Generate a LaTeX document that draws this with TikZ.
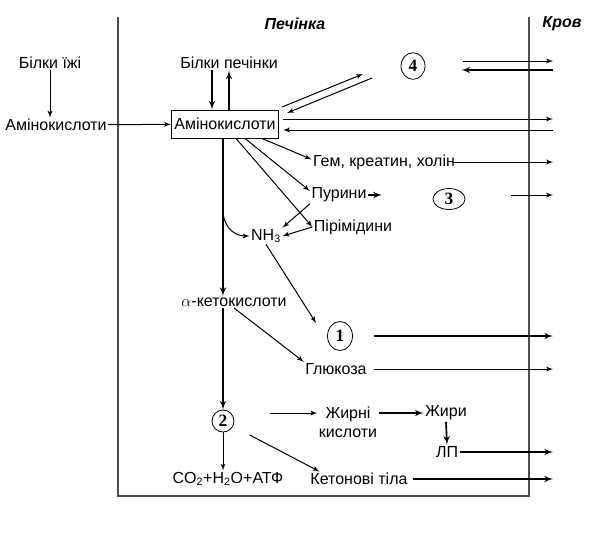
\documentclass[tikz,border=0pt]{standalone}
\usepackage{fontspec}
\setmainfont{Liberation Sans}
\newfontfamily\numfont{Liberation Serif}
\usetikzlibrary{shapes,arrows}
\usetikzlibrary{positioning}
\tikzstyle{term} = [inner sep=1pt, font=\fontsize{12}{14.5}\selectfont]
\tikzstyle{block} = [rectangle, draw, line width=0.75pt, inner xsep=2.2pt, minimum height=21pt, font=\fontsize{12}{14.5}\selectfont]
\tikzstyle{stage} = [ellipse, draw, line width=0.6pt, inner sep=0pt, font=\numfont\bfseries\fontsize{13}{15}\selectfont]
\tikzstyle{title} = [inner sep=1pt, font=\bfseries\itshape\fontsize{12}{14}\selectfont]
\tikzstyle{line} = [draw, line width=0.75pt, -latex']
\tikzstyle{heavy} = [draw, line width=1.25pt, -latex']
\tikzstyle{border} = [draw, black!70, line width=0.9pt]

\begin{document}
\begin{tikzpicture}[x=0.75pt, y=-0.75pt]
	\useasboundingbox (0,0) rectangle (607,533);
	
	% Frame
	\path [border] (118,17) -- (118,496) -- (529,496) -- (529,17);
	\node [title] (liver) at (295,24) {Печінка};
	\node [title] (bloodtitle) at (562,24) {Кров};
	\coordinate (blood) at (553,0);
	\coordinate (down) at (212,0);
	
	% Place nodes
	\node [term] (food) at (50,63) {Білки їжі};
	\node [term] (aminoL) at (56,125) {Амінокислоти};
	\node [block] (amino) at (225,124) {Амінокислоти};
	\node [term] (liverP) at (229,63) {Білки печінки};
	\node [stage, minimum width=18pt, minimum height=20pt] (four) at (413,66) {4};
	\node [term] (gem) at (384,162) {Гем, креатин, холін};
	\node [term] (purine) at (339,195) {Пурини};
	\node [stage, minimum width=24pt, minimum height=15.75pt] (three) at (449,199) {3};
	\node [term] (pyrim) at (353,227) {Пірімідини};
	\node [term] (nh3) at (266,236) {NH\textsubscript{3}};
	\node [term] (alpha) at (234,302) {$\alpha$-кетокислоти};
	\node [stage, minimum width=18.75pt, minimum height=21.75pt] (one) at (340,336) {1};
	\node [term] (glucose) at (336,369) {Глюкоза};
	\node [stage, minimum width=16.5pt, minimum height=16.5pt] (two) at (223,421) {2};
	\node [term, align=center] (fattyA) at (348,422) {Жирні\\кислоти};
	\node [term] (fats) at (446,413) {Жири};
	\node [term] (lp) at (447,452) {ЛП};
	\node [term] (co2) at (228,479) {CO\textsubscript{2}+H\textsubscript{2}O+АТФ};
	\node [term] (ketone) at (359,479) {Кетонові тіла};
	\coordinate (out4) at (282,107);
	\coordinate (to4) at (363,74);
	\coordinate (from4) at (372,78);
	\coordinate (in4) at (287,113);
	\coordinate (to1) at (316,323);
	\coordinate (trunkNH) at (223,214);
	
	% Draw edges
	\path [line] (food) -- (aminoL.north -| food);
	\path [line] (aminoL) -- (amino);
	\path [heavy] (liverP.south -| down) -- (amino.north -| down);
	\path [heavy] (amino.north -| liverP) -- (liverP.south);
	\path [line] (out4) -- (to4);
	\path [line] (from4) -- (in4);
	\path [line, shorten <=28.5pt] (four.east |- 0,61) -- (blood |- 0,61);
	\path [heavy, shorten >=27pt] (blood |- 0,70) -- (four.east |- 0,70);
	\path [line, shorten <=3pt] (amino.east |- 0,119) -- (blood |- 0,119);
	\path [line, shorten >=3pt] (blood |- 0,130) -- (amino.east |- 0,130);
	\path [line] ([xshift=27.75pt]amino.south) -- ([yshift=2pt]gem.west);
	\path [line] ([xshift=15pt]amino.south) -- ([yshift=3pt]purine.west);
	\path [line] ([xshift=8.25pt]amino.south) -- (pyrim.west);
	\path [line, shorten <=-3pt] (gem.east) -- (gem.east -| blood);
	\path [heavy, shorten >=38pt] (purine.east) -- (purine.east -| three.west);
	\path [line, shorten <=34.5pt] (purine.east -| three.east) -- (purine.east -| blood);
	\path [line] (purine.south west) -- (nh3.north east);
	\path [line] (pyrim.west) -- (nh3.east);
	\path [line] (trunkNH) to [out=-80, in=180, looseness=1.1] (nh3.west);
	\path [line] (nh3.south) -- (to1);
	\path [heavy] (amino.south -| two) -- (alpha.north -| two);
	\path [heavy] (alpha.south -| two) -- (two.north);
	\path [line] (alpha.south) -- (glucose.north west);
	\path [heavy, shorten <=15.75pt] (one.east) -- (one.east -| blood);
	\path [line, shorten <=4pt] (glucose.east) -- (glucose.east -| blood);
	\path [line, shorten <=27pt] (two.east |- fats) -- (fattyA.west |- fats);
	\path [heavy] (fattyA.east |- fats) -- (fats.west);
	\path [heavy] (fats.south) -- (lp.north);
	\path [heavy] (lp.east) -- (lp.east -| blood);
	\path [line, shorten <=14pt] (two) -- ([xshift=8pt]ketone.north west);
	\path [line] (two.south) -- (co2.north -| two);
	\path [heavy, shorten <=3pt] (ketone.east) -- (ketone.east -| blood);
	
\end{tikzpicture}
\end{document}
